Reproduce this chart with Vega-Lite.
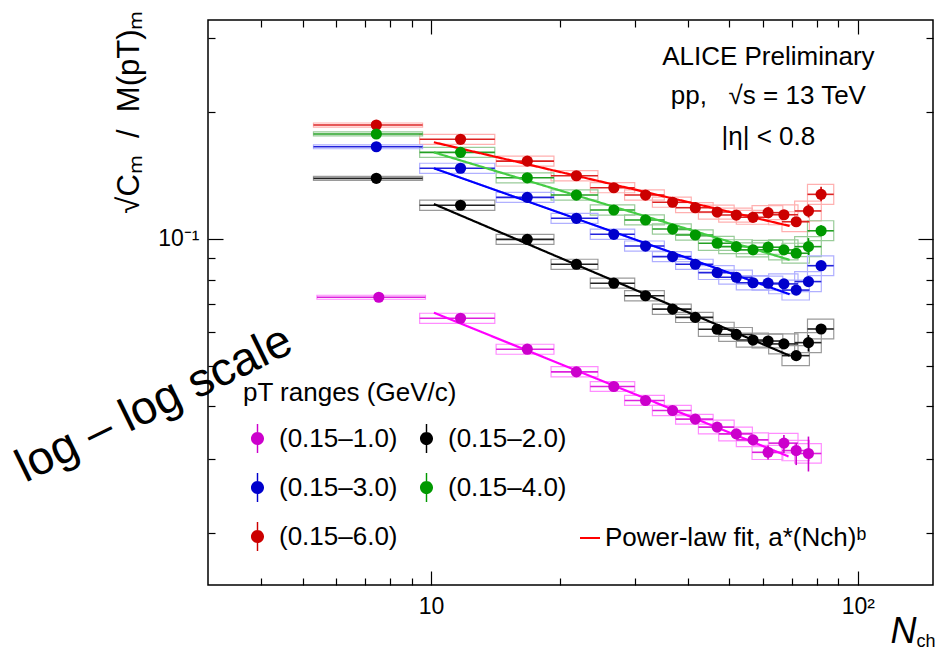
{
  "$schema": "https://vega.github.io/schema/vega-lite/v6.json",
  "autosize": "none",
  "padding": {"left": 208, "top": 20, "right": 5, "bottom": 68},
  "width": 725,
  "height": 565,
  "background": "white",
  "config": {
    "view": {"stroke": "#000", "strokeWidth": 1.5},
    "font": "Liberation Sans",
    "axis": {"domain": false, "grid": false, "tickColor": "#000", "tickWidth": 1.2, "labelFont": "Liberation Sans", "labelFontSize": 23, "labelColor": "#000", "titleFont": "Liberation Sans", "titleFontWeight": "normal", "titleColor": "#000"},
    "legend": {"labelFont": "Liberation Sans", "titleFont": "Liberation Sans", "labelColor": "#000", "titleColor": "#000", "titleFontWeight": "normal", "labelLimit": 0, "titleLimit": 0}
  },
  "datasets": {
    "pts": [
      {"s": "(0.15–6.0)", "n": 7.44, "v": 0.1866, "xl": 5.3, "xh": 9.55, "bl": 0.1846, "bh": 0.1887},
      {"s": "(0.15–6.0)", "n": 11.72, "v": 0.1726, "xl": 9.4, "xh": 14.1, "bl": 0.1679, "bh": 0.1774},
      {"s": "(0.15–6.0)", "n": 16.8, "v": 0.1532, "xl": 14.2, "xh": 19.4, "bl": 0.149, "bh": 0.1575},
      {"s": "(0.15–6.0)", "n": 21.9, "v": 0.1414, "xl": 19.1, "xh": 24.6, "bl": 0.1375, "bh": 0.1454},
      {"s": "(0.15–6.0)", "n": 26.8, "v": 0.1324, "xl": 23.6, "xh": 30.0, "bl": 0.1288, "bh": 0.1361},
      {"s": "(0.15–6.0)", "n": 31.8, "v": 0.1272, "xl": 28.4, "xh": 35.2, "bl": 0.1237, "bh": 0.1308},
      {"s": "(0.15–6.0)", "n": 36.8, "v": 0.1223, "xl": 33.0, "xh": 40.7, "bl": 0.119, "bh": 0.1257},
      {"s": "(0.15–6.0)", "n": 41.6, "v": 0.1187, "xl": 37.4, "xh": 45.8, "bl": 0.1155, "bh": 0.122},
      {"s": "(0.15–6.0)", "n": 46.8, "v": 0.1159, "xl": 42.3, "xh": 51.3, "bl": 0.1115, "bh": 0.1204},
      {"s": "(0.15–6.0)", "n": 51.9, "v": 0.114, "xl": 47.2, "xh": 56.6, "bl": 0.1097, "bh": 0.1184},
      {"s": "(0.15–6.0)", "n": 56.8, "v": 0.1126, "xl": 51.9, "xh": 61.7, "bl": 0.1084, "bh": 0.117},
      {"s": "(0.15–6.0)", "n": 61.6, "v": 0.1155, "xl": 56.5, "xh": 66.7, "bl": 0.1112, "bh": 0.12},
      {"s": "(0.15–6.0)", "n": 67.1, "v": 0.1142, "xl": 61.8, "xh": 72.4, "bl": 0.1081, "bh": 0.1206},
      {"s": "(0.15–6.0)", "n": 71.7, "v": 0.1099, "xl": 66.4, "xh": 77.0, "bl": 0.1041, "bh": 0.1161},
      {"s": "(0.15–6.0)", "n": 76.6, "v": 0.1166, "xl": 71.1, "xh": 82.1, "bl": 0.1104, "bh": 0.1231},
      {"s": "(0.15–6.0)", "n": 82.0, "v": 0.1277, "xl": 76.2, "xh": 87.8, "bl": 0.1209, "bh": 0.1349},

      {"s": "(0.15–4.0)", "n": 7.44, "v": 0.1777, "xl": 5.3, "xh": 9.55, "bl": 0.1758, "bh": 0.1797},
      {"s": "(0.15–4.0)", "n": 11.72, "v": 0.1607, "xl": 9.4, "xh": 14.1, "bl": 0.1563, "bh": 0.1652},
      {"s": "(0.15–4.0)", "n": 16.8, "v": 0.1398, "xl": 14.2, "xh": 19.4, "bl": 0.136, "bh": 0.1437},
      {"s": "(0.15–4.0)", "n": 21.9, "v": 0.1272, "xl": 19.1, "xh": 24.6, "bl": 0.1237, "bh": 0.1308},
      {"s": "(0.15–4.0)", "n": 26.8, "v": 0.1172, "xl": 23.6, "xh": 30.0, "bl": 0.114, "bh": 0.1205},
      {"s": "(0.15–4.0)", "n": 31.8, "v": 0.111, "xl": 28.4, "xh": 35.2, "bl": 0.108, "bh": 0.1141},
      {"s": "(0.15–4.0)", "n": 36.8, "v": 0.1056, "xl": 33.0, "xh": 40.7, "bl": 0.1027, "bh": 0.1086},
      {"s": "(0.15–4.0)", "n": 41.6, "v": 0.1022, "xl": 37.4, "xh": 45.8, "bl": 0.0994, "bh": 0.1051},
      {"s": "(0.15–4.0)", "n": 46.8, "v": 0.0977, "xl": 42.3, "xh": 51.3, "bl": 0.094, "bh": 0.1015},
      {"s": "(0.15–4.0)", "n": 51.9, "v": 0.0959, "xl": 47.2, "xh": 56.6, "bl": 0.0923, "bh": 0.0996},
      {"s": "(0.15–4.0)", "n": 56.8, "v": 0.0942, "xl": 51.9, "xh": 61.7, "bl": 0.0907, "bh": 0.0979},
      {"s": "(0.15–4.0)", "n": 61.6, "v": 0.0956, "xl": 56.5, "xh": 66.7, "bl": 0.092, "bh": 0.0993},
      {"s": "(0.15–4.0)", "n": 67.1, "v": 0.0942, "xl": 61.8, "xh": 72.4, "bl": 0.0892, "bh": 0.0995},
      {"s": "(0.15–4.0)", "n": 71.7, "v": 0.0925, "xl": 66.4, "xh": 77.0, "bl": 0.0876, "bh": 0.0977},
      {"s": "(0.15–4.0)", "n": 76.6, "v": 0.0959, "xl": 71.1, "xh": 82.1, "bl": 0.0908, "bh": 0.1013},
      {"s": "(0.15–4.0)", "n": 82.0, "v": 0.1046, "xl": 76.2, "xh": 87.8, "bl": 0.0991, "bh": 0.1105},

      {"s": "(0.15–3.0)", "n": 7.44, "v": 0.1657, "xl": 5.3, "xh": 9.55, "bl": 0.1639, "bh": 0.1675},
      {"s": "(0.15–3.0)", "n": 11.72, "v": 0.1473, "xl": 9.4, "xh": 14.1, "bl": 0.1433, "bh": 0.1514},
      {"s": "(0.15–3.0)", "n": 16.8, "v": 0.1256, "xl": 14.2, "xh": 19.4, "bl": 0.1222, "bh": 0.1291},
      {"s": "(0.15–3.0)", "n": 21.9, "v": 0.112, "xl": 19.1, "xh": 24.6, "bl": 0.1089, "bh": 0.1151},
      {"s": "(0.15–3.0)", "n": 26.8, "v": 0.1026, "xl": 23.6, "xh": 30.0, "bl": 0.0998, "bh": 0.1055},
      {"s": "(0.15–3.0)", "n": 31.8, "v": 0.0962, "xl": 28.4, "xh": 35.2, "bl": 0.0936, "bh": 0.0989},
      {"s": "(0.15–3.0)", "n": 36.8, "v": 0.0908, "xl": 33.0, "xh": 40.7, "bl": 0.0883, "bh": 0.0933},
      {"s": "(0.15–3.0)", "n": 41.6, "v": 0.0871, "xl": 37.4, "xh": 45.8, "bl": 0.0847, "bh": 0.0895},
      {"s": "(0.15–3.0)", "n": 46.8, "v": 0.0832, "xl": 42.3, "xh": 51.3, "bl": 0.0801, "bh": 0.0864},
      {"s": "(0.15–3.0)", "n": 51.9, "v": 0.0811, "xl": 47.2, "xh": 56.6, "bl": 0.0781, "bh": 0.0843},
      {"s": "(0.15–3.0)", "n": 56.8, "v": 0.0787, "xl": 51.9, "xh": 61.7, "bl": 0.0757, "bh": 0.0818},
      {"s": "(0.15–3.0)", "n": 61.6, "v": 0.0785, "xl": 56.5, "xh": 66.7, "bl": 0.0756, "bh": 0.0816},
      {"s": "(0.15–3.0)", "n": 67.1, "v": 0.0782, "xl": 61.8, "xh": 72.4, "bl": 0.0741, "bh": 0.0826},
      {"s": "(0.15–3.0)", "n": 71.7, "v": 0.0756, "xl": 66.4, "xh": 77.0, "bl": 0.0716, "bh": 0.0798},
      {"s": "(0.15–3.0)", "n": 76.6, "v": 0.0792, "xl": 71.1, "xh": 82.1, "bl": 0.075, "bh": 0.0836},
      {"s": "(0.15–3.0)", "n": 82.0, "v": 0.0864, "xl": 76.2, "xh": 87.8, "bl": 0.0818, "bh": 0.0912},

      {"s": "(0.15–2.0)", "n": 7.44, "v": 0.1394, "xl": 5.3, "xh": 9.55, "bl": 0.1379, "bh": 0.1409},
      {"s": "(0.15–2.0)", "n": 11.72, "v": 0.1203, "xl": 9.4, "xh": 14.1, "bl": 0.117, "bh": 0.1237},
      {"s": "(0.15–2.0)", "n": 16.8, "v": 0.0998, "xl": 14.2, "xh": 19.4, "bl": 0.0971, "bh": 0.1026},
      {"s": "(0.15–2.0)", "n": 21.9, "v": 0.0871, "xl": 19.1, "xh": 24.6, "bl": 0.0847, "bh": 0.0895},
      {"s": "(0.15–2.0)", "n": 26.8, "v": 0.0785, "xl": 23.6, "xh": 30.0, "bl": 0.0764, "bh": 0.0807},
      {"s": "(0.15–2.0)", "n": 31.8, "v": 0.0733, "xl": 28.4, "xh": 35.2, "bl": 0.0713, "bh": 0.0754},
      {"s": "(0.15–2.0)", "n": 36.8, "v": 0.0681, "xl": 33.0, "xh": 40.7, "bl": 0.0662, "bh": 0.07},
      {"s": "(0.15–2.0)", "n": 41.6, "v": 0.0651, "xl": 37.4, "xh": 45.8, "bl": 0.0633, "bh": 0.0669},
      {"s": "(0.15–2.0)", "n": 46.8, "v": 0.061, "xl": 42.3, "xh": 51.3, "bl": 0.0587, "bh": 0.0634},
      {"s": "(0.15–2.0)", "n": 51.9, "v": 0.0593, "xl": 47.2, "xh": 56.6, "bl": 0.0571, "bh": 0.0616},
      {"s": "(0.15–2.0)", "n": 56.8, "v": 0.0575, "xl": 51.9, "xh": 61.7, "bl": 0.0553, "bh": 0.0597},
      {"s": "(0.15–2.0)", "n": 61.6, "v": 0.0572, "xl": 56.5, "xh": 66.7, "bl": 0.0551, "bh": 0.0594},
      {"s": "(0.15–2.0)", "n": 67.1, "v": 0.0563, "xl": 61.8, "xh": 72.4, "bl": 0.0533, "bh": 0.0595},
      {"s": "(0.15–2.0)", "n": 71.7, "v": 0.0528, "xl": 66.4, "xh": 77.0, "bl": 0.05, "bh": 0.0558},
      {"s": "(0.15–2.0)", "n": 76.6, "v": 0.0567, "xl": 71.1, "xh": 82.1, "bl": 0.0537, "bh": 0.0599},
      {"s": "(0.15–2.0)", "n": 82.0, "v": 0.0611, "xl": 76.2, "xh": 87.8, "bl": 0.0579, "bh": 0.0645},

      {"s": "(0.15–1.0)", "n": 7.54, "v": 0.0727, "xl": 5.4, "xh": 9.7, "bl": 0.0719, "bh": 0.0735},
      {"s": "(0.15–1.0)", "n": 11.72, "v": 0.0648, "xl": 9.4, "xh": 14.1, "bl": 0.063, "bh": 0.0666},
      {"s": "(0.15–1.0)", "n": 16.8, "v": 0.0547, "xl": 14.2, "xh": 19.4, "bl": 0.0532, "bh": 0.0562},
      {"s": "(0.15–1.0)", "n": 21.9, "v": 0.0483, "xl": 19.1, "xh": 24.6, "bl": 0.047, "bh": 0.0497},
      {"s": "(0.15–1.0)", "n": 26.8, "v": 0.0446, "xl": 23.6, "xh": 30.0, "bl": 0.0434, "bh": 0.0458},
      {"s": "(0.15–1.0)", "n": 31.8, "v": 0.0413, "xl": 28.4, "xh": 35.2, "bl": 0.0402, "bh": 0.0425},
      {"s": "(0.15–1.0)", "n": 36.8, "v": 0.0391, "xl": 33.0, "xh": 40.7, "bl": 0.038, "bh": 0.0402},
      {"s": "(0.15–1.0)", "n": 41.6, "v": 0.0373, "xl": 37.4, "xh": 45.8, "bl": 0.0363, "bh": 0.0383},
      {"s": "(0.15–1.0)", "n": 46.8, "v": 0.0357, "xl": 42.3, "xh": 51.3, "bl": 0.0344, "bh": 0.0371},
      {"s": "(0.15–1.0)", "n": 51.9, "v": 0.0344, "xl": 47.2, "xh": 56.6, "bl": 0.0331, "bh": 0.0357},
      {"s": "(0.15–1.0)", "n": 56.8, "v": 0.0333, "xl": 51.9, "xh": 61.7, "bl": 0.0321, "bh": 0.0346},
      {"s": "(0.15–1.0)", "n": 61.6, "v": 0.0311, "xl": 56.5, "xh": 66.7, "bl": 0.0299, "bh": 0.0323},
      {"s": "(0.15–1.0)", "n": 67.1, "v": 0.0327, "xl": 61.8, "xh": 72.4, "bl": 0.031, "bh": 0.0345},
      {"s": "(0.15–1.0)", "n": 71.7, "v": 0.0314, "xl": 66.4, "xh": 77.0, "bl": 0.0297, "bh": 0.0332},
      {"s": "(0.15–1.0)", "n": 76.6, "v": 0.0309, "xl": 71.1, "xh": 82.1, "bl": 0.0293, "bh": 0.0326}
    ],
    "fits": [
      {"s": "(0.15–6.0)", "n": 10.15, "v": 0.1698, "f": "Power-law fit, a*(Nch)ᵇ"},
      {"s": "(0.15–6.0)", "n": 69.2, "v": 0.1074, "f": "Power-law fit, a*(Nch)ᵇ"},
      {"s": "(0.15–4.0)", "n": 10.15, "v": 0.1607, "f": "Power-law fit, a*(Nch)ᵇ"},
      {"s": "(0.15–4.0)", "n": 69.2, "v": 0.0892, "f": "Power-law fit, a*(Nch)ᵇ"},
      {"s": "(0.15–3.0)", "n": 10.15, "v": 0.1473, "f": "Power-law fit, a*(Nch)ᵇ"},
      {"s": "(0.15–3.0)", "n": 69.2, "v": 0.0739, "f": "Power-law fit, a*(Nch)ᵇ"},
      {"s": "(0.15–2.0)", "n": 10.15, "v": 0.1211, "f": "Power-law fit, a*(Nch)ᵇ"},
      {"s": "(0.15–2.0)", "n": 69.2, "v": 0.0528, "f": "Power-law fit, a*(Nch)ᵇ"},
      {"s": "(0.15–1.0)", "n": 10.15, "v": 0.0668, "f": "Power-law fit, a*(Nch)ᵇ"},
      {"s": "(0.15–1.0)", "n": 68.8, "v": 0.0304, "f": "Power-law fit, a*(Nch)ᵇ"}
    ],
    "stat": [
      {"s": "(0.15–1.0)", "n": 61.6, "lo": 0.0299, "hi": 0.0323},
      {"s": "(0.15–1.0)", "n": 67.1, "lo": 0.031, "hi": 0.0342},
      {"s": "(0.15–1.0)", "n": 71.7, "lo": 0.029, "hi": 0.0327},
      {"s": "(0.15–1.0)", "n": 76.6, "lo": 0.028, "hi": 0.0339},
      {"s": "(0.15–6.0)", "n": 82.0, "lo": 0.1229, "hi": 0.1331},
      {"s": "(0.15–4.0)", "n": 76.6, "lo": 0.0916, "hi": 0.1005},
      {"s": "(0.15–2.0)", "n": 76.6, "lo": 0.054, "hi": 0.0591},
      {"s": "(0.15–6.0)", "n": 76.6, "lo": 0.1125, "hi": 0.1208},
      {"s": "(0.15–4.0)", "n": 82.0, "lo": 0.1015, "hi": 0.1078}
    ]
  },
  "resolve": {"axis": {"x": "independent", "y": "independent"}, "scale": {"color": "independent"}},
  "layer": [
    {
      "data": {"name": "pts"},
      "mark": {"type": "rect", "filled": false, "strokeWidth": 1.2},
      "encoding": {
        "x": {"field": "xl", "type": "quantitative", "scale": {"type": "log", "domain": [3, 150], "nice": false},
              "axis": {"orient": "bottom", "values": [10, 100], "tickSize": -14, "labelExpr": "datum.value == 10 ? '10' : '10²'", "labelPadding": 24, "title": null}},
        "x2": {"field": "xh"},
        "y": {"field": "bl", "type": "quantitative", "scale": {"type": "log", "domain": [0.01504, 0.3317], "nice": false},
              "axis": {"orient": "left", "values": [0.1], "tickSize": -15, "labelExpr": "'10⁻¹'", "labelPadding": 24,
                       "title": "√Cₘ\u00a0\u00a0/\u00a0\u00a0M(pT)ₘ", "titleFontSize": 31, "titleAngle": -90, "titleAlign": "right", "titleBaseline": "alphabetic", "titleX": -70, "titleY": -10}},
        "y2": {"field": "bh"},
        "color": {"field": "s", "type": "nominal", "legend": null,
                  "scale": {"domain": ["(0.15–1.0)", "(0.15–2.0)", "(0.15–3.0)", "(0.15–4.0)", "(0.15–6.0)"], "range": ["#ff8cff", "#9a9a9a", "#b0b0ff", "#99cc99", "#ffb0b0"]}}
      }
    },
    {
      "data": {"name": "pts"},
      "mark": {"type": "rule", "strokeWidth": 1.6},
      "encoding": {
        "x": {"field": "xl", "type": "quantitative", "axis": {"orient": "bottom", "values": [4, 5, 6, 7, 8, 9, 20, 30, 40, 50, 60, 70, 80, 90], "tickSize": -7, "labels": false, "title": null}},
        "x2": {"field": "xh"},
        "y": {"field": "v", "type": "quantitative", "axis": {"orient": "left", "values": [0.02, 0.03, 0.04, 0.05, 0.06, 0.07, 0.08, 0.09, 0.2, 0.3], "tickSize": -7, "labels": false, "title": null}},
        "color": {"field": "s", "type": "nominal", "legend": null,
                  "scale": {"domain": ["(0.15–1.0)", "(0.15–2.0)", "(0.15–3.0)", "(0.15–4.0)", "(0.15–6.0)"], "range": ["#dd22dd", "#222222", "#2222dd", "#22a022", "#dd2222"]}}
      }
    },
    {
      "data": {"name": "fits"},
      "mark": {"type": "line", "strokeWidth": 2.2},
      "encoding": {
        "x": {"field": "n", "type": "quantitative", "axis": {"orient": "top", "values": [10, 100], "tickSize": -14, "labels": false, "title": null}},
        "y": {"field": "v", "type": "quantitative", "axis": {"orient": "right", "values": [0.1], "tickSize": -15, "labels": false, "title": null}},
        "color": {"field": "s", "type": "nominal", "legend": null,
                  "scale": {"domain": ["(0.15–1.0)", "(0.15–2.0)", "(0.15–3.0)", "(0.15–4.0)", "(0.15–6.0)"], "range": ["#ff00ff", "#000000", "#0000ff", "#44cc44", "#ff0000"]}},
        "strokeDash": {"field": "f", "type": "nominal", "scale": {"domain": ["Power-law fit, a*(Nch)ᵇ"], "range": [[1, 0]]},
                       "legend": {"orient": "none", "legendX": 369, "legendY": 505, "title": null, "labelFontSize": 26, "symbolType": "stroke", "symbolSize": 400, "symbolStrokeColor": "#ff0000", "symbolStrokeWidth": 2, "labelOffset": 2}}
      }
    },
    {
      "data": {"name": "stat"},
      "mark": {"type": "rule", "strokeWidth": 1.6},
      "encoding": {
        "x": {"field": "n", "type": "quantitative", "axis": {"orient": "top", "values": [4, 5, 6, 7, 8, 9, 20, 30, 40, 50, 60, 70, 80, 90], "tickSize": -7, "labels": false, "title": null}},
        "y": {"field": "lo", "type": "quantitative", "axis": {"orient": "right", "values": [0.02, 0.03, 0.04, 0.05, 0.06, 0.07, 0.08, 0.09, 0.2, 0.3], "tickSize": -7, "labels": false, "title": null}},
        "y2": {"field": "hi"},
        "color": {"field": "s", "type": "nominal", "legend": null,
                  "scale": {"domain": ["(0.15–1.0)", "(0.15–2.0)", "(0.15–3.0)", "(0.15–4.0)", "(0.15–6.0)"], "range": ["#cc00cc", "#000000", "#0000cc", "#009900", "#cc0000"]}}
      }
    },
    {
      "data": {"name": "pts"},
      "mark": {"type": "point", "filled": true, "opacity": 1, "size": 125, "shape": "circle"},
      "encoding": {
        "x": {"field": "n", "type": "quantitative", "axis": null},
        "y": {"field": "v", "type": "quantitative", "axis": null},
        "color": {"field": "s", "type": "nominal",
                  "scale": {"domain": ["(0.15–1.0)", "(0.15–3.0)", "(0.15–6.0)", "(0.15–2.0)", "(0.15–4.0)"], "range": ["#cc00cc", "#0000cc", "#cc0000", "#000000", "#009900"]},
                  "legend": {"orient": "none", "legendX": 35, "legendY": 360, "columns": 2, "title": "pT ranges (GeV/c)", "titleFontSize": 26, "titlePadding": 18, "labelFontSize": 26, "labelOffset": 7, "columnPadding": 14, "rowPadding": 20, "symbolSize": 841, "symbolStrokeWidth": 0, "symbolOpacity": 1,
                             "symbolType": "M-0.45,0A0.45,0.45,0,1,0,0.45,0A0.45,0.45,0,1,0,-0.45,0Z M-0.05,-1L0.05,-1L0.05,-0.44L-0.05,-0.44Z M-0.05,0.44L0.05,0.44L0.05,1L-0.05,1Z"}}
      }
    },
    {
      "data": {"values": [
        {"x": 61.7, "y": 0.2593, "t": "ALICE Preliminary"},
        {"x": 61.7, "y": 0.2094, "t": "pp,\u00a0\u00a0\u00a0√s = 13 TeV"},
        {"x": 61.7, "y": 0.1673, "t": "|η| < 0.8"}
      ]},
      "mark": {"type": "text", "fontSize": 26, "align": "center", "baseline": "alphabetic", "color": "#000"},
      "encoding": {
        "x": {"field": "x", "type": "quantitative", "axis": null},
        "y": {"field": "y", "type": "quantitative", "axis": null},
        "text": {"field": "t"}
      }
    },
    {
      "data": {"values": [{"x": 2.32, "y": 0.03773, "t": "log – log scale"}]},
      "mark": {"type": "text", "fontSize": 47, "align": "center", "baseline": "alphabetic", "angle": -26, "color": "#000"},
      "encoding": {
        "x": {"field": "x", "type": "quantitative", "axis": null},
        "y": {"field": "y", "type": "quantitative", "axis": null},
        "text": {"field": "t"}
      }
    },
    {
      "data": {"values": [{"x": 127.9, "y": 0.01095, "t": "N"}]},
      "mark": {"type": "text", "fontSize": 36, "fontStyle": "italic", "align": "center", "baseline": "alphabetic", "color": "#000"},
      "encoding": {
        "x": {"field": "x", "type": "quantitative", "axis": null},
        "y": {"field": "y", "type": "quantitative", "axis": null},
        "text": {"field": "t"}
      }
    },
    {
      "data": {"values": [{"x": 137.2, "y": 0.01072, "t": "ch"}]},
      "mark": {"type": "text", "fontSize": 18, "align": "left", "baseline": "alphabetic", "color": "#000"},
      "encoding": {
        "x": {"field": "x", "type": "quantitative", "axis": null},
        "y": {"field": "y", "type": "quantitative", "axis": null},
        "text": {"field": "t"}
      }
    }
  ]
}
